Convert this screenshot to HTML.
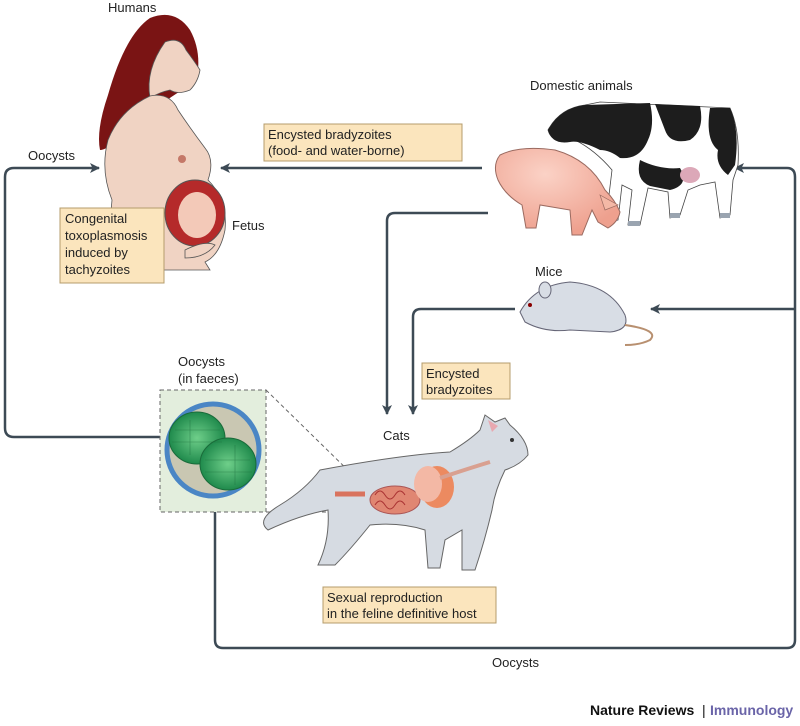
<!DOCTYPE html>
<html><head><meta charset="utf-8"><style>
html,body{margin:0;padding:0;background:#fff;}
svg{display:block;font-family:"Liberation Sans",sans-serif;}
</style></head><body>
<svg width="800" height="726" viewBox="0 0 800 726" xmlns="http://www.w3.org/2000/svg">
<defs>
<marker id="ah" markerWidth="10" markerHeight="10" refX="9" refY="5" orient="auto" markerUnits="userSpaceOnUse">
<path d="M0,0 L10,5 L0,10 L2.5,5 Z" fill="#3d4a55"/></marker>
<radialGradient id="grn" cx="0.5" cy="0.5" r="0.5"><stop offset="0" stop-color="#6fcf8a"/><stop offset="1" stop-color="#1f8a4c"/></radialGradient>
<radialGradient id="pg" cx="0.4" cy="0.3" r="0.7"><stop offset="0" stop-color="#fbd2c6"/><stop offset="1" stop-color="#eea08e"/></radialGradient>
</defs>
<g fill="none" stroke="#3d4a55" stroke-width="2.5">
<path d="M160,437 H14 Q5,437 5,428 V177 Q5,168 14,168 H99" marker-end="url(#ah)"/>
<path d="M482,168 H221" marker-end="url(#ah)"/>
<path d="M488,213 H395 Q387,213 387,221 V414" marker-end="url(#ah)"/>
<path d="M515,309 H421 Q413,309 413,317 V414" marker-end="url(#ah)"/>
<path d="M215,512 V640 Q215,648 223,648 H787 Q795,648 795,640 V177 Q795,168 787,168 H735" marker-end="url(#ah)"/>
<path d="M795,309 H651" marker-end="url(#ah)"/>
</g>
<g stroke="#666" stroke-width="1" stroke-dasharray="4,3" fill="none">
<rect x="160" y="390" width="106" height="122" fill="#e3eedd"/>
<line x1="266" y1="390" x2="360" y2="482"/>
<line x1="266" y1="512" x2="360" y2="512"/>
</g>
<circle cx="213" cy="450" r="46" fill="#c9c7b2" stroke="#4a86c5" stroke-width="5"/>
<ellipse cx="197" cy="438" rx="28" ry="26" fill="url(#grn)" stroke="#1a6b3a"/>
<ellipse cx="228" cy="464" rx="28" ry="26" fill="url(#grn)" stroke="#1a6b3a"/>
<g fill="none" stroke="#1a6b3a" stroke-width="0.6" opacity="0.6">
<path d="M175,430 H220 M172,442 H222 M205,460 H250 M205,472 H252 M190,420 V455 M235,445 V485"/>
</g>
<path d="M150,18 Q175,8 190,30 Q200,48 198,70 Q192,80 185,88 Q150,110 118,140 Q106,150 100,150 Q96,130 108,95 Q125,35 150,18Z" fill="#7a1414"/>
<path d="M165,42 Q180,36 186,50 Q195,62 200,70 Q198,82 190,90 Q178,95 170,90 Q160,92 150,98 Q145,70 165,42Z" fill="#f0d3c3" stroke="#555" stroke-width="0.8"/>
<path d="M150,96 Q170,92 178,110 Q190,128 205,148 Q215,160 208,180 Q228,200 225,230 Q220,255 205,262 L210,270 L115,270 Q108,240 112,200 Q100,170 108,140 Q120,110 150,96Z" fill="#f0d3c3" stroke="#555" stroke-width="0.8"/>
<circle cx="182" cy="159" r="4" fill="#c47868"/>
<ellipse cx="195" cy="213" rx="30" ry="33" fill="#b52a2a" stroke="#555"/>
<ellipse cx="197" cy="215" rx="19" ry="23" fill="#f3c9b8"/>
<path d="M185,250 Q205,240 215,245 Q205,258 185,258Z" fill="#f0d3c3" stroke="#555" stroke-width="0.8"/>
<g font-size="13" fill="#222">
<text x="108" y="12">Humans</text>
<text x="28" y="160">Oocysts</text>
<text x="232" y="230">Fetus</text>
<text x="530" y="90">Domestic animals</text>
<text x="535" y="276">Mice</text>
<text x="383" y="440">Cats</text>
<text x="178" y="366">Oocysts</text>
<text x="178" y="383">(in faeces)</text>
<text x="492" y="667">Oocysts</text>
</g>
<g fill="#fbe5bd" stroke="#b59c6c" stroke-width="1">
<rect x="264" y="124" width="198" height="37"/>
<rect x="60" y="208" width="104" height="75"/>
<rect x="422" y="363" width="88" height="36"/>
<rect x="323" y="587" width="173" height="36"/>
</g>
<g font-size="13" fill="#222">
<text x="268" y="139">Encysted bradyzoites</text>
<text x="268" y="155">(food- and water-borne)</text>
<text x="65" y="223">Congenital</text>
<text x="65" y="240">toxoplasmosis</text>
<text x="65" y="257">induced by</text>
<text x="65" y="274">tachyzoites</text>
<text x="426" y="378">Encysted</text>
<text x="426" y="394">bradyzoites</text>
<text x="327" y="602">Sexual reproduction</text>
<text x="327" y="618">in the feline definitive host</text>
</g>
<path d="M548,130 Q560,108 585,105 L600,102 L730,108 Q740,130 738,165 L733,180 L730,215 L720,218 L715,182 L700,185 L688,190 L680,215 L670,218 L668,192 L648,188 L640,225 L628,225 L632,190 L622,185 L618,220 L606,220 L612,170 Q595,150 575,140 Q552,145 548,130Z" fill="#fff" stroke="#444" stroke-width="0.8"/>
<path d="M548,130 Q560,108 585,105 L650,103 Q655,125 648,140 Q640,160 620,158 Q610,150 600,150 Q580,140 570,142 Q552,145 548,130Z" fill="#1d1d1d"/>
<path d="M655,104 L700,106 Q705,130 690,140 Q670,145 665,130 Z" fill="#1d1d1d"/>
<path d="M710,108 L730,108 Q740,130 735,165 L728,175 Q715,165 718,150 Q705,140 710,108Z" fill="#1d1d1d"/>
<path d="M640,160 Q660,170 680,168 Q690,185 670,190 L650,186 Q635,180 640,160Z" fill="#1d1d1d"/>
<ellipse cx="690" cy="175" rx="10" ry="8" fill="#dca8b8"/>
<g fill="#9aa4b0"><rect x="606" y="216" width="12" height="5"/><rect x="628" y="221" width="12" height="5"/><rect x="670" y="213" width="10" height="5"/><rect x="720" y="213" width="10" height="5"/></g>
<path d="M500,155 Q520,145 555,150 Q590,160 605,190 Q615,200 620,212 Q618,222 608,228 L598,222 L592,210 L582,235 L572,235 L570,210 L540,205 L536,228 L526,228 L522,205 Q505,195 498,180 Q492,165 500,155Z" fill="url(#pg)" stroke="#9a6a60"/>
<path d="M600,195 L618,205 L605,210Z" fill="#f4b8a6" stroke="#9a6a60" stroke-width="0.7"/>
<path d="M520,312 Q535,285 570,282 Q610,285 625,315 Q630,330 610,332 L570,330 Q545,333 525,322 Z" fill="#d8dde5" stroke="#667"/>
<ellipse cx="545" cy="290" rx="6" ry="8" fill="#d8dde5" stroke="#667"/>
<path d="M625,325 Q660,330 650,340 Q640,345 625,345" stroke="#b89070" stroke-width="2" fill="none"/>
<circle cx="530" cy="305" r="2" fill="#800"/>
<path d="M320,470 Q400,455 450,452 Q470,440 480,430 L485,415 L495,422 L505,418 L510,425 Q528,440 528,455 Q520,465 505,470 Q495,490 492,510 Q485,540 475,570 L462,570 L462,530 L445,540 L440,568 L428,568 L425,530 Q400,522 370,525 Q350,550 335,565 L318,565 Q330,540 328,510 Q300,515 268,530 Q255,520 280,505 Q305,490 320,470 Z" fill="#d6dbe2" stroke="#666"/>
<path d="M335,494 H365" stroke="#d9735e" stroke-width="5"/>
<ellipse cx="395" cy="500" rx="25" ry="14" fill="#e08672" stroke="#a55"/>
<path d="M375,495 q5,-8 10,0 q5,8 10,0 q5,-8 10,0 M375,505 q5,-8 10,0 q5,8 10,0 q5,-8 10,0" stroke="#a33" fill="none" stroke-width="1"/>
<ellipse cx="437" cy="487" rx="17" ry="21" fill="#ec8a60"/>
<ellipse cx="428" cy="484" rx="14" ry="18" fill="#f3b8a5"/>
<path d="M440,478 Q470,468 490,462" stroke="#d9a090" stroke-width="4" fill="none"/>
<path d="M488,420 L492,432 L498,426Z" fill="#e8a8b0"/>
<circle cx="512" cy="440" r="2" fill="#333"/>
<text x="590" y="715" font-size="14" font-weight="bold" fill="#111">Nature Reviews</text>
<text x="702" y="715" font-size="14" fill="#111">|</text>
<text x="710" y="715" font-size="14" font-weight="bold" fill="#6a64a8">Immunology</text>
</svg>
</body></html>
